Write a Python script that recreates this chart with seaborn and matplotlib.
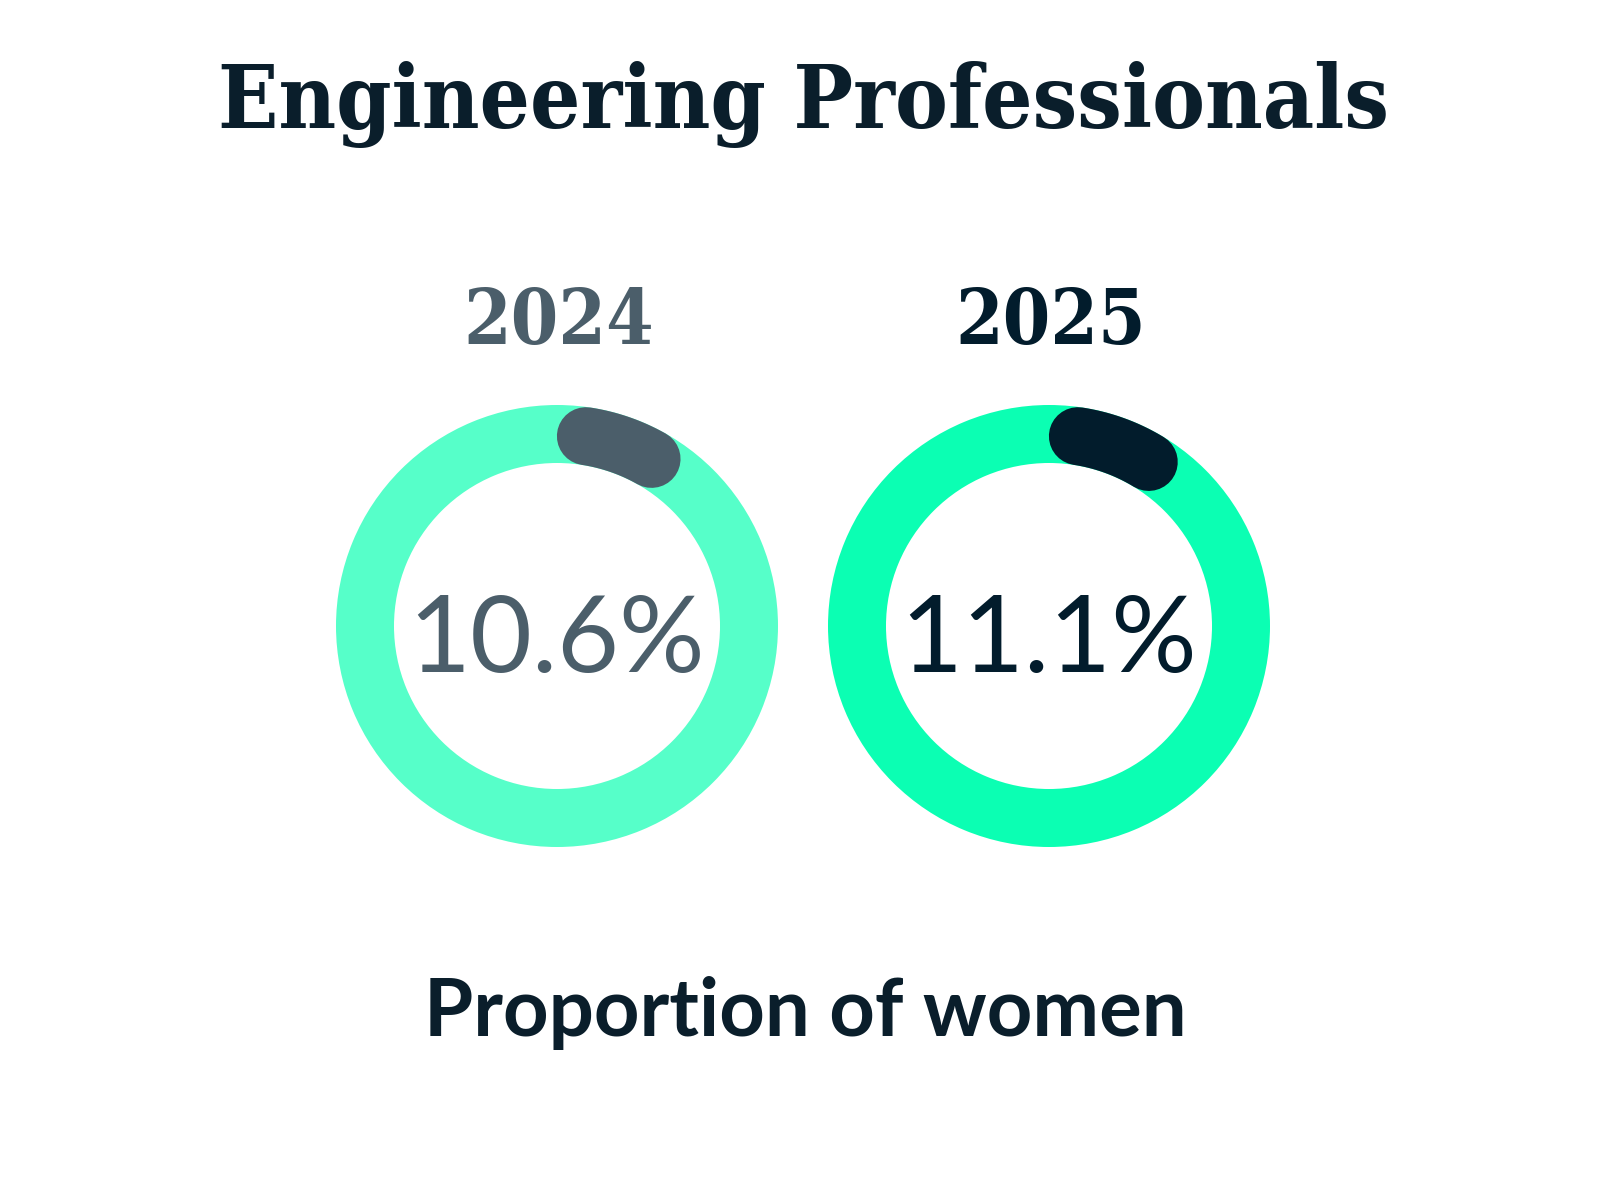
import numpy as np
import matplotlib
matplotlib.use("Agg")
import matplotlib.pyplot as plt
import seaborn as sns

sns.set_theme(style="white")

# chart data
title = "Engineering Professionals"
subtitle = "Proportion of women"
years = ["2024", "2025"]
shares = [10.6, 11.1]  # percent of women
ring_colors = ["#56FFC9", "#0BFFB3"]
arc_colors = ["#4B5E6A", "#021C2C"]
title_color = "#0A1E2B"

W, H, DPI = 1600, 1200, 100
fig = plt.figure(figsize=(W / DPI, H / DPI), dpi=DPI)
ax = fig.add_axes([0, 0, 1, 1])

r_out, r_in = 221, 163
r_mid = (r_out + r_in) / 2
band = r_out - r_in
centers_x = [557, 1049]
center_y = H - 626

for i, (yr, val) in enumerate(zip(years, shares)):
    cx = centers_x[i]
    # full background ring
    ax.pie([100], radius=r_out, center=(cx, center_y), colors=[ring_colors[i]],
           wedgeprops=dict(width=band, linewidth=0), frame=True)
    # progress arc with round caps, from 12 o'clock clockwise
    cap = np.degrees((band / 2) / r_mid)
    theta = np.radians(np.linspace(cap, val * 3.6 - cap, 60))
    ax.plot(cx + r_mid * np.sin(theta), center_y + r_mid * np.cos(theta),
            color=arc_colors[i], lw=band * 72 / DPI, solid_capstyle="round")

ax.set_xlim(0, W)
ax.set_ylim(0, H)
ax.set_aspect("equal")
ax.axis("off")

renderer = fig.canvas.get_renderer()


def fit(t, target_w):
    for _ in range(3):
        w = t.get_window_extent(renderer).width
        t.set_fontsize(t.get_fontsize() * target_w / w)


t = ax.text(804, H - 128, title, ha="center", va="baseline", color=title_color,
            fontsize=60, fontweight="bold", fontstretch="condensed",
            family=["DejaVu Serif"])
fit(t, 1172)

for i, (yr, val) in enumerate(zip(years, shares)):
    cx = centers_x[i]
    t = ax.text(cx + 2, H - 344, yr, ha="center", va="baseline", color=arc_colors[i],
                fontsize=50, fontweight="bold", fontstretch="condensed",
                family=["DejaVu Serif"])
    fit(t, 190)
    t = ax.text(cx, H - 672, f"{val:.1f}%", ha="center", va="baseline",
                color=arc_colors[i], fontsize=60, fontweight="normal", family=["Lato"])
    fit(t, 296)

t = ax.text(805, H - 1036, subtitle, ha="center", va="baseline", color=title_color,
            fontsize=50, fontweight="bold", family=["Lato"])
fit(t, 763)

fig.savefig("out.png", dpi=DPI, facecolor="white")
